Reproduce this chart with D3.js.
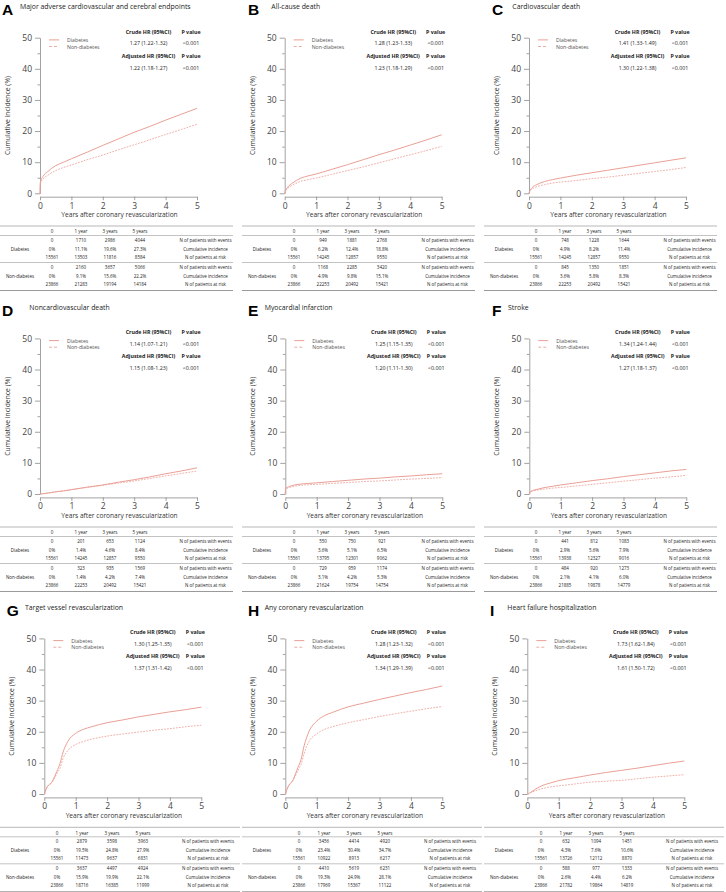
<!DOCTYPE html>
<html><head><meta charset="utf-8">
<script src="https://cdn.jsdelivr.net/npm/d3@7"></script>
<style>html,body{margin:0;padding:0;background:#fff;}svg{display:block;}</style>
</head><body>
<svg id="chart" width="726" height="892"></svg>
<script>
// ---------------- DATA ----------------
const panelLetters = ["A","B","C","D","E","F","G","H","I"];
const panelTitles = [
  "Major adverse cardiovascular and cerebral endpoints",
  "All-cause death",
  "Cardiovascular death",
  "Noncardiovascular death",
  "Myocardial infarction",
  "Stroke",
  "Target vessel revascularization",
  "Any coronary revascularization",
  "Heart failure hospitalization"
];
const seriesNames = ["Diabetes","Non-diabetes"];
const xTicks = [0,1,2,3,4,5];
const yTicks = [0,10,20,30,40,50];

// time points (years)
const yrs    = [0, 0.01, 0.1, 0.25, 0.5, 0.75, 1, 1.5, 2, 2.5, 3, 3.5, 4, 4.5, 5];
const yrsRev = [0, 0.07, 0.25, 0.4, 0.5, 0.6, 0.75, 1, 1.25, 1.5, 2, 2.5, 3, 3.5, 4, 4.5, 5];

// cumulative incidence (%)
const diabA = [0, 3.5, 5.5, 7.0, 8.9, 10.0, 11.1, 13.2, 15.4, 17.5, 19.6, 21.5, 23.5, 25.4, 27.3];
const nonA  = [0, 3.0, 4.6, 5.8, 7.3, 8.3, 9.1, 10.8, 12.3, 14.0, 15.6, 17.2, 18.9, 20.5, 22.2];
const diabB = [0, 0.4, 2.0, 3.3, 4.8, 5.6, 6.2, 7.7, 9.2, 10.8, 12.4, 13.9, 15.5, 17.1, 18.8];
const nonB  = [0, 0.3, 1.6, 2.6, 3.8, 4.4, 4.9, 6.1, 7.3, 8.5, 9.8, 11.1, 12.4, 13.7, 15.1];
const diabC = [0, 0.4, 1.8, 2.8, 3.8, 4.4, 4.9, 5.8, 6.6, 7.4, 8.2, 9.0, 9.8, 10.6, 11.4];
const nonC  = [0, 0.3, 1.4, 2.1, 2.8, 3.3, 3.6, 4.1, 4.7, 5.2, 5.8, 6.4, 7.0, 7.6, 8.3];
const diabD = [0, 0.0, 0.1, 0.3, 0.7, 1.0, 1.4, 2.2, 2.9, 3.8, 4.6, 5.5, 6.5, 7.4, 8.4];
const nonD  = [0, 0.0, 0.1, 0.3, 0.7, 1.0, 1.4, 2.1, 2.8, 3.5, 4.2, 5.0, 5.8, 6.6, 7.4];
const diabE = [0, 1.8, 2.3, 2.8, 3.2, 3.4, 3.6, 4.0, 4.4, 4.8, 5.1, 5.5, 5.8, 6.2, 6.5];
const nonE  = [0, 1.5, 2.0, 2.4, 2.8, 3.0, 3.1, 3.4, 3.7, 4.0, 4.2, 4.5, 4.8, 5.0, 5.3];
const diabF = [0, 0.4, 1.1, 1.5, 2.1, 2.5, 2.9, 3.6, 4.3, 4.9, 5.6, 6.2, 6.8, 7.4, 7.9];
const nonF  = [0, 0.3, 0.9, 1.2, 1.6, 1.9, 2.1, 2.6, 3.1, 3.6, 4.1, 4.6, 5.1, 5.5, 6.0];
const diabG = [0, 1.9, 4.0, 7.3, 9.8, 13.5, 16.9, 19.5, 20.8, 21.6, 22.9, 23.8, 24.8, 25.6, 26.4, 27.1, 27.9];
const nonG  = [0, 1.8, 3.8, 6.5, 8.3, 11.5, 14.0, 15.9, 16.9, 17.6, 18.6, 19.3, 19.9, 20.5, 21.0, 21.6, 22.1];
const diabH = [0, 2.0, 4.6, 8.5, 11.0, 15.5, 20.0, 23.4, 25.2, 26.2, 28.0, 29.2, 30.4, 31.5, 32.6, 33.6, 34.7];
const nonH  = [0, 1.9, 4.4, 7.5, 9.5, 13.0, 16.8, 19.3, 20.8, 21.6, 22.9, 23.9, 24.9, 25.8, 26.6, 27.4, 28.1];
const diabI = [0, 0.0, 0.5, 1.5, 2.8, 3.6, 4.3, 5.2, 6.1, 6.9, 7.6, 8.3, 9.1, 9.9, 10.6];
const nonI  = [0, 0.0, 0.4, 1.0, 1.8, 2.3, 2.6, 3.2, 3.8, 4.1, 4.4, 4.9, 5.4, 5.8, 6.2];

const panelYears = [yrs, yrs, yrs, yrs, yrs, yrs, yrsRev, yrsRev, yrs];
const panelDiab = [diabA, diabB, diabC, diabD, diabE, diabF, diabG, diabH, diabI];
const panelNon  = [nonA, nonB, nonC, nonD, nonE, nonF, nonG, nonH, nonI];

const crudeHR = ["1.27 (1.22-1.32)","1.28 (1.23-1.33)","1.41 (1.33-1.49)","1.14 (1.07-1.21)","1.25 (1.15-1.35)","1.34 (1.24-1.44)","1.30 (1.25-1.35)","1.28 (1.23-1.32)","1.73 (1.62-1.84)"];
const adjustedHR = ["1.22 (1.18-1.27)","1.23 (1.18-1.29)","1.30 (1.22-1.38)","1.15 (1.08-1.23)","1.20 (1.11-1.30)","1.27 (1.18-1.37)","1.37 (1.31-1.42)","1.34 (1.29-1.39)","1.61 (1.50-1.72)"];
const crudeP = ["<0.001","<0.001","<0.001","<0.001","<0.001","<0.001","<0.001","<0.001","<0.001"];
const adjustedP = ["<0.001","<0.001","<0.001","<0.001","<0.001","<0.001","<0.001","<0.001","<0.001"];

// risk table
const tableCols = ["0","1 year","3 years","5 years"];
const rowDesc = ["N of patients with events","Cumulative incidence","N of patients at risk"];
const eventsDiab = [[0,1710,2986,4044],[0,949,1881,2768],[0,748,1228,1644],[0,201,653,1124],[0,550,750,921],[0,441,812,1083],[0,2879,3598,3963],[0,3456,4414,4920],[0,632,1094,1451]];
const incDiab = [["0%","11.1%","19.6%","27.3%"],["0%","6.2%","12.4%","18.8%"],["0%","4.9%","8.2%","11.4%"],["0%","1.4%","4.6%","8.4%"],["0%","3.6%","5.1%","6.5%"],["0%","2.9%","5.6%","7.9%"],["0%","19.5%","24.8%","27.9%"],["0%","23.4%","30.4%","34.7%"],["0%","4.3%","7.6%","10.6%"]];
const riskDiab = [[15561,13503,11816,8584],[15561,14245,12857,9550],[15561,14245,12857,9550],[15561,14245,12857,9550],[15561,13795,12301,9062],[15561,13938,12327,9016],[15561,11473,9637,6831],[15561,10922,8913,6217],[15561,13726,12112,8870]];
const eventsNon = [[0,2160,3657,5066],[0,1168,2285,3420],[0,845,1350,1851],[0,323,935,1569],[0,729,959,1174],[0,484,920,1273],[0,3637,4497,4924],[0,4410,5619,6231],[0,588,977,1333]];
const incNon = [["0%","9.1%","15.6%","22.2%"],["0%","4.9%","9.8%","15.1%"],["0%","3.6%","5.8%","8.3%"],["0%","1.4%","4.2%","7.4%"],["0%","3.1%","4.2%","5.3%"],["0%","2.1%","4.1%","6.0%"],["0%","15.9%","19.9%","22.1%"],["0%","19.3%","24.9%","28.1%"],["0%","2.6%","4.4%","6.2%"]];
const riskNon = [[23866,21283,19194,14184],[23866,22253,20492,15421],[23866,22253,20492,15421],[23866,22253,20492,15421],[23866,21624,19754,14754],[23866,21885,19878,14779],[23866,18716,16385,11999],[23866,17969,15367,11122],[23866,21782,19864,14819]];

// ---------------- LAYOUT ----------------
const FONT = "'Open Sans', 'Noto Sans', sans-serif";
const C_DIAB = "#eaa096", C_NON = "#eeaca4";
const plotLeft = [40, 284.7, 529, 40, 285.3, 529.3, 44.3, 285.3, 527.3];
const plotW = 157;
const rowTop = [0, 300.7, 600.7];
const tableTop = [226, 527, 827.3];
const colX = [0, 242, 484];
const letterX = [2, 248, 492, 2, 248, 492, 6.7, 248, 490];
const titleX = [20, 271.3, 512.3, 29.3, 264.7, 508, 25, 264.7, 507.3];

const svg = d3.select("#chart");
svg.append("rect").attr("width",726).attr("height",892).attr("fill","#fff");

for (let p = 0; p < 9; p++) {
  const r = Math.floor(p / 3), c = p % 3;
  const top = rowTop[r];
  const y50 = top + 37.7, y0 = top + 193.3;
  const L = plotLeft[p];
  const g = svg.append("g");

  // letter + title
  g.append("text").attr("x", letterX[p]).attr("y", top + 15.2)
    .attr("font-family", "'Liberation Sans', Arial, sans-serif").attr("font-weight", "bold")
    .attr("font-size", 15.5).attr("fill", "#000").text(panelLetters[p]);
  g.append("text").attr("x", titleX[p]).attr("y", top + 9)
    .attr("font-family", FONT).attr("font-size", 6.9).attr("fill", "#222").text(panelTitles[p]);

  const x = d3.scaleLinear().domain([0,5]).range([L, L + plotW]);
  const y = d3.scaleLinear().domain([0,50]).range([y0, y50]);

  // y axis
  const yAx = g.append("g").attr("transform", `translate(${L},0)`)
    .call(d3.axisLeft(y).tickValues(yTicks).tickSize(5).tickPadding(3).tickSizeOuter(0));
  yAx.select(".domain").attr("stroke", "#8a8a8a").attr("stroke-width", 0.8);
  yAx.selectAll(".tick line").attr("stroke", "#8a8a8a").attr("stroke-width", 0.8);
  yAx.selectAll(".tick text").attr("font-family", FONT).attr("font-size", 8.5).attr("fill", "#444");
  const yMin = g.append("g").attr("transform", `translate(${L},0)`)
    .call(d3.axisLeft(y).tickValues([5,15,25,35,45]).tickSize(2.5).tickFormat("").tickSizeOuter(0));
  yMin.select(".domain").remove();
  yMin.selectAll(".tick line").attr("stroke", "#8a8a8a").attr("stroke-width", 0.8);

  // x axis
  const xAx = g.append("g").attr("transform", `translate(0,${y0 + 3.4})`)
    .call(d3.axisBottom(x).tickValues(xTicks).tickSize(3.5).tickPadding(2.5).tickSizeOuter(0).tickFormat(d3.format("d")));
  xAx.select(".domain").attr("stroke", "#8a8a8a").attr("stroke-width", 0.8);
  xAx.selectAll(".tick line").attr("stroke", "#8a8a8a").attr("stroke-width", 0.8);
  xAx.selectAll(".tick text").attr("font-family", FONT).attr("font-size", 8.5).attr("fill", "#444");

  // axis labels
  g.append("text").attr("transform", `translate(${L - 32.5},${(y0 + y50) / 2}) rotate(-90)`)
    .attr("text-anchor", "middle").attr("dominant-baseline", "central")
    .attr("font-family", FONT).attr("font-size", 6.8).attr("fill", "#333").text("Cumulative incidence (%)");
  g.append("text").attr("x", L + plotW / 2 + 1).attr("y", y0 + 24)
    .attr("text-anchor", "middle").attr("font-family", FONT).attr("font-size", 6.6).attr("fill", "#333")
    .text("Years after coronary revascularization");

  // curves
  const line = d3.line().x(d => x(d[0])).y(d => y(d[1])).curve(d3.curveMonotoneX);
  const yrsP = panelYears[p];
  g.append("path").datum(yrsP.map((t,i) => [t, panelNon[p][i]]))
    .attr("d", line).attr("fill", "none").attr("stroke", C_NON).attr("stroke-width", 0.95)
    .attr("stroke-dasharray", "1.8,1.2");
  g.append("path").datum(yrsP.map((t,i) => [t, panelDiab[p][i]]))
    .attr("d", line).attr("fill", "none").attr("stroke", C_DIAB).attr("stroke-width", 1);

  // legend
  seriesNames.forEach((nm, i) => {
    const ly = y50 + 2.2 + i * 6.6;
    g.append("line").attr("x1", L + 9).attr("x2", L + 19).attr("y1", ly).attr("y2", ly)
      .attr("stroke", i === 0 ? C_DIAB : C_NON).attr("stroke-width", 1)
      .attr("stroke-dasharray", i === 0 ? null : "3,2");
    g.append("text").attr("x", L + 27).attr("y", ly).attr("dominant-baseline", "central")
      .attr("font-family", FONT).attr("font-size", 5.2).attr("fill", "#555").text(nm);
  });

  // HR block
  const hx = L + 108.5, px = L + 151;
  const hr = [
    {t1: "Crude HR (95%CI)", t2: "P value", b: true, dy: -6},
    {t1: crudeHR[p], t2: crudeP[p], b: false, dy: 5.7},
    {t1: "Adjusted HR (95%CI)", t2: "P value", b: true, dy: 18},
    {t1: adjustedHR[p], t2: adjustedP[p], b: false, dy: 30}
  ];
  hr.forEach(h => {
    g.append("text").attr("x", hx).attr("y", y50 + h.dy).attr("text-anchor", "middle")
      .attr("dominant-baseline", "central").attr("font-family", FONT).attr("font-size", 5.3)
      .attr("font-weight", h.b ? "bold" : "normal").attr("fill", "#222").text(h.t1);
    g.append("text").attr("x", px).attr("y", y50 + h.dy).attr("text-anchor", "middle")
      .attr("dominant-baseline", "central").attr("font-family", FONT).attr("font-size", 5.3)
      .attr("font-weight", h.b ? "bold" : "normal").attr("fill", "#222").text(h.t2);
  });

  // table
  const T = tableTop[r];
  const X0 = colX[c];
  const wide = r === 2;
  const cx = wide ? [57, 82, 112, 143] : [52, 81, 110, 140];
  const descX = wide ? 208 : 205.5;
  const tW = wide ? 240 : 233;
  const tf = (s, xx, yy) => g.append("text").attr("x", X0 + xx).attr("y", yy).attr("text-anchor", "middle")
      .attr("dominant-baseline", "central").attr("font-family", FONT).attr("font-size", 4.5)
      .attr("fill", "#222").text(s);
  const hl = (yy, w) => g.append("line").attr("x1", X0).attr("x2", X0 + tW).attr("y1", yy).attr("y2", yy)
      .attr("stroke", "#9a9a9a").attr("stroke-width", w);
  hl(T, 0.7); hl(T + 9.5, 0.6); hl(T + 36.5, 0.6); hl(T + 64.5, 1.2);
  tableCols.forEach((s, i) => tf(s, cx[i], T + 5.2));
  const groups = [
    {name: seriesNames[0], rows: [eventsDiab[p], incDiab[p], riskDiab[p]], y: T + 14},
    {name: seriesNames[1], rows: [eventsNon[p], incNon[p], riskNon[p]], y: T + 41}
  ];
  groups.forEach(gr => {
    tf(gr.name, 20, gr.y + 8.5);
    gr.rows.forEach((row, k) => {
      row.forEach((v, i) => tf(String(v), cx[i], gr.y + k * 8.5));
      tf(rowDesc[k], descX, gr.y + k * 8.5);
    });
  });
}
</script>
</body></html>
